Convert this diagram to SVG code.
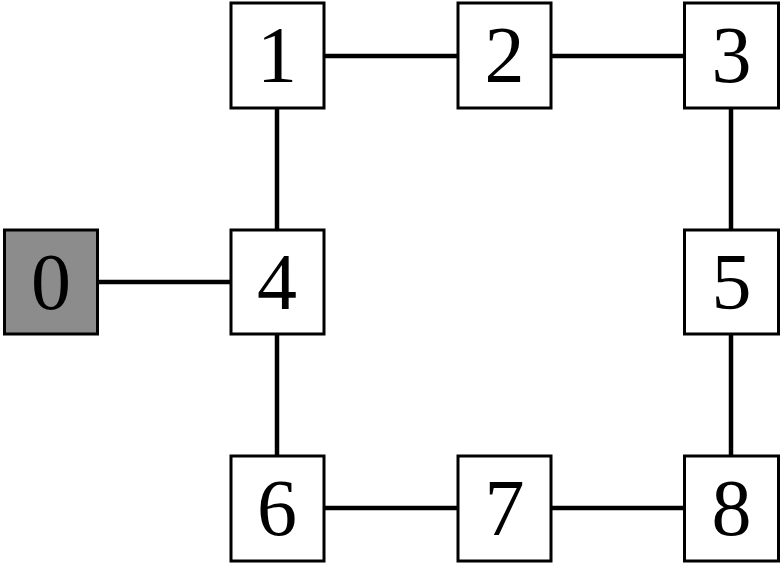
<svg xmlns="http://www.w3.org/2000/svg" width="782" height="566" viewBox="0 0 782 566">
<style>
.box{fill:#fff;stroke:#000;stroke-width:3}
.gray{fill:#8c8c8c}
.lbl{font-family:"Liberation Serif","DejaVu Serif",serif;font-size:80px;text-anchor:middle;fill:#000}
.edge{stroke:#000;stroke-width:4.5;fill:none}
</style>
<rect width="782" height="566" fill="#fff"/>
<g id="edges">
<line class="edge" x1="324" y1="56" x2="459" y2="56"/>
<line class="edge" x1="551" y1="56" x2="684" y2="56"/>
<line class="edge" x1="277" y1="108" x2="277" y2="230"/>
<line class="edge" x1="731" y1="108" x2="731" y2="230"/>
<line class="edge" x1="98" y1="282" x2="231" y2="282"/>
<line class="edge" x1="277" y1="334" x2="277" y2="456"/>
<line class="edge" x1="731" y1="334" x2="731" y2="456"/>
<line class="edge" x1="324" y1="508" x2="459" y2="508"/>
<line class="edge" x1="551" y1="508" x2="684" y2="508"/>
</g>
<g id="n0"><rect class="box gray" x="4.5" y="230" width="93" height="104"/><text class="lbl" x="51" y="309">0</text></g>
<g id="n1"><rect class="box" x="231" y="3" width="93" height="105"/><text class="lbl" x="277" y="82">1</text></g>
<g id="n2"><rect class="box" x="458" y="3" width="93" height="105"/><text class="lbl" x="504.5" y="82">2</text></g>
<g id="n3"><rect class="box" x="684.5" y="3" width="94" height="105"/><text class="lbl" x="731.5" y="82">3</text></g>
<g id="n4"><rect class="box" x="231" y="230" width="93" height="104"/><text class="lbl" x="277" y="309">4</text></g>
<g id="n5"><rect class="box" x="684.5" y="230" width="94" height="104"/><text class="lbl" x="731.5" y="309">5</text></g>
<g id="n6"><rect class="box" x="231" y="456" width="93" height="105"/><text class="lbl" x="277" y="535">6</text></g>
<g id="n7"><rect class="box" x="458" y="456" width="93" height="105"/><text class="lbl" x="504.5" y="535">7</text></g>
<g id="n8"><rect class="box" x="684.5" y="456" width="94" height="105"/><text class="lbl" x="731.5" y="535">8</text></g>
</svg>
